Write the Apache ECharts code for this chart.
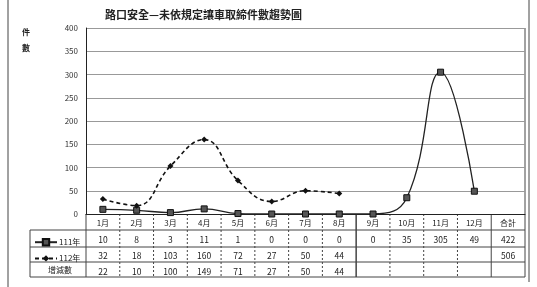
<!DOCTYPE html>
<html lang="zh-Hant">
<head>
<meta charset="UTF-8">
<title>路口安全—未依規定讓車取締件數趨勢圖</title>
<style>
  html, body { margin: 0; padding: 0; background: #fff; }
  #chart1 { width: 537px; height: 287px; }
</style>
</head>
<body>
<div id="chart1"></div>
<script src="https://cdn.jsdelivr.net/npm/echarts@6/dist/echarts.min.js"></script>
<script>
// data
var months = ['1月','2月','3月','4月','5月','6月','7月','8月','9月','10月','11月','12月','合計'];
var yTicks = [0, 50, 100, 150, 200, 250, 300, 350, 400];
var y111 = [10, 8, 3, 11, 1, 0, 0, 0, 0, 35, 305, 49];
var y112 = [32, 18, 103, 160, 72, 27, 50, 44];
var total111 = 422;
var total112 = 506;
var diffs = [22, 10, 100, 149, 71, 27, 50, 44];

var font = '"Noto Sans CJK TC", "Noto Sans CJK SC", serif';
var W = 537, H = 287;
var gLeft = 86, gRight = 525, gTop = 28, gBottom = 214;
var rowH = 16;
var colW = (gRight - gLeft) / months.length;

function row(vals, total) {
    var out = [];
    for (var i = 0; i < 12; i++) out.push(vals[i] === undefined ? '' : String(vals[i]));
    out.push(total === undefined ? '' : String(total));
    return out;
}

var myChart1 = echarts.init(document.getElementById('chart1'));

// table frame lines
var g = [];
var lineStyle = { stroke: '#444', lineWidth: 1 };
function hline(y, x1, x2) {
    g.push({ type: 'line', shape: { x1: x1, y1: y, x2: x2, y2: y }, style: lineStyle, silent: true });
}
function vline(x, y1, y2, dashed, w) {
    g.push({ type: 'line', shape: { x1: x, y1: y1, x2: x, y2: y2 },
        style: { stroke: '#444', lineWidth: w || 1, lineDash: dashed ? [2, 2] : null }, silent: true });
}
var tBottom = gBottom + rowH * 4 - 1;
hline(gBottom + rowH, 30, gRight);
hline(gBottom + rowH * 2 + 1, 30, gRight);
hline(gBottom + rowH * 3, 30, gRight);
hline(tBottom, 30, gRight);
vline(30, gBottom + rowH, tBottom);
vline(gLeft, gBottom, tBottom);
for (var c = 1; c < months.length; c++) {
    vline(gLeft + colW * c, gBottom, tBottom, !(c === 8 || c === 12), (c === 8 ? 1.5 : 1));
}
vline(gRight, gTop, tBottom);
// outer frame of the scanned sheet
vline(8, 0, H);
vline(529, 0, 282);
// 增減數 label
g.push({ type: 'text', left: 48, top: gBottom + rowH * 3 + 4,
    style: { text: '增減數', font: '8px ' + font, fill: '#222' }, silent: true });
// y axis name
g.push({ type: 'text', left: 22, top: 28,
    style: { text: '件\n\n數', font: 'bold 8px ' + font, fill: '#222', lineHeight: 8 }, silent: true });

function tableAxis(data, offset) {
    return {
        type: 'category', data: data, position: 'bottom', offset: offset,
        axisLine: { show: false }, axisTick: { show: false },
        axisLabel: { interval: 0, fontSize: 8.5, color: '#222', fontFamily: font, margin: 6 }
    };
}

myChart1.setOption({
    backgroundColor: '#fff',
    animation: false,
    title: {
        text: '路口安全—未依規定讓車取締件數趨勢圖',
        left: 100, top: 4,
        textStyle: { fontSize: 11, fontWeight: 'bold', color: '#222', fontFamily: font }
    },
    legend: {
        orient: 'vertical', left: 29, top: gBottom + rowH + 3,
        itemWidth: 22, itemHeight: 8, itemGap: 8,
        textStyle: { fontSize: 8, color: '#222', fontFamily: font, padding: [0, 0, 0, -3] },
        data: ['111年', '112年']
    },
    grid: { left: gLeft, right: W - gRight, top: gTop, bottom: H - gBottom },
    xAxis: [
        {
            type: 'category', data: months, boundaryGap: true,
            axisLine: { lineStyle: { color: '#222' } }, axisTick: { show: false },
            axisLabel: { interval: 0, fontSize: 8, color: '#222', fontFamily: font, margin: 5 }
        },
        tableAxis(row(y111, total111), rowH),
        tableAxis(row(y112, total112), rowH * 2),
        tableAxis(row(diffs), rowH * 3)
    ],
    yAxis: {
        type: 'value', min: 0, max: 400, interval: 50,
        axisLine: { show: true, lineStyle: { color: '#222' } }, axisTick: { show: false },
        axisLabel: { fontSize: 8, color: '#333', fontFamily: font, margin: 8,
            formatter: function (v) { return yTicks.indexOf(v) >= 0 ? v : ''; } },
        splitLine: { lineStyle: { color: '#999', width: 1 } }
    },
    series: [
        {
            name: '111年', type: 'line', data: y111, smooth: 0.45,
            symbol: 'rect', symbolSize: 6,
            itemStyle: { color: '#555', borderColor: '#111', borderWidth: 1 },
            lineStyle: { color: '#222', width: 1.3 }
        },
        {
            name: '112年', type: 'line', data: y112, smooth: 0.45,
            symbol: 'diamond', symbolSize: 6,
            itemStyle: { color: '#111' },
            lineStyle: { color: '#111', width: 1.6, type: [4, 3] }
        }
    ],
    graphic: g
});
</script>
</body>
</html>
